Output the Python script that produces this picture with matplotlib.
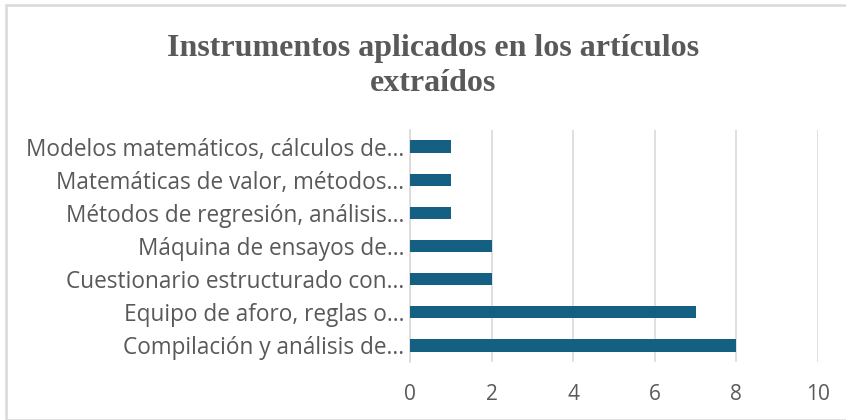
import matplotlib
matplotlib.use('Agg')
import matplotlib.pyplot as plt
from matplotlib.patches import Rectangle

# data
labels = ['Compilación y análisis de...',
          'Equipo de aforo, reglas o...',
          'Cuestionario estructurado con...',
          'Máquina de ensayos de...',
          'Métodos de regresión, análisis...',
          'Matemáticas de valor, métodos...',
          'Modelos matemáticos, cálculos de...']
values = [8, 7, 2, 2, 1, 1, 1]
xticks = [0, 2, 4, 6, 8, 10]

title = 'Instrumentos aplicados en los artículos\nextraídos'
grey = '#595959'

fig = plt.figure(figsize=(8.46, 4.20), dpi=100)
W, H = 846, 420

# chart frame
fig.patches.append(Rectangle((6/W, 0), 1.0, 1 - 5/H, transform=fig.transFigure,
                             fill=False, edgecolor='#d9d9d9', linewidth=1.8))

ax = fig.add_axes([410/W, 1 - 362/H, 408/W, 232/H])
ax.barh(range(len(labels)), values, height=0.37, color='#156082', zorder=3)
ax.set_xlim(0, 10)
ax.set_ylim(-0.5, len(labels) - 0.5)
ax.set_xticks(xticks)
ax.set_xticklabels([str(t) for t in xticks])
ax.set_yticks(range(len(labels)))
ax.set_yticklabels(labels)
ax.grid(axis='x', color='#d9d9d9', linewidth=1.2, zorder=0)
for s in ['top', 'right', 'bottom']:
    ax.spines[s].set_visible(False)
ax.spines['left'].set_color('#d9d9d9')
ax.spines['left'].set_linewidth(1.2)
ax.tick_params(axis='y', length=0, colors=grey, labelsize=16.3, pad=4)
ax.tick_params(axis='x', length=0, colors=grey, labelsize=15, pad=16)
for t in ax.get_xticklabels() + ax.get_yticklabels():
    t.set_fontfamily('Open Sans')

fig.text(433/W, 1 - 66/H, title, ha='center', va='center', fontsize=23,
         fontweight='bold', color=grey, family='Liberation Serif',
         linespacing=1.3)

fig.savefig('out.png', dpi=100)
